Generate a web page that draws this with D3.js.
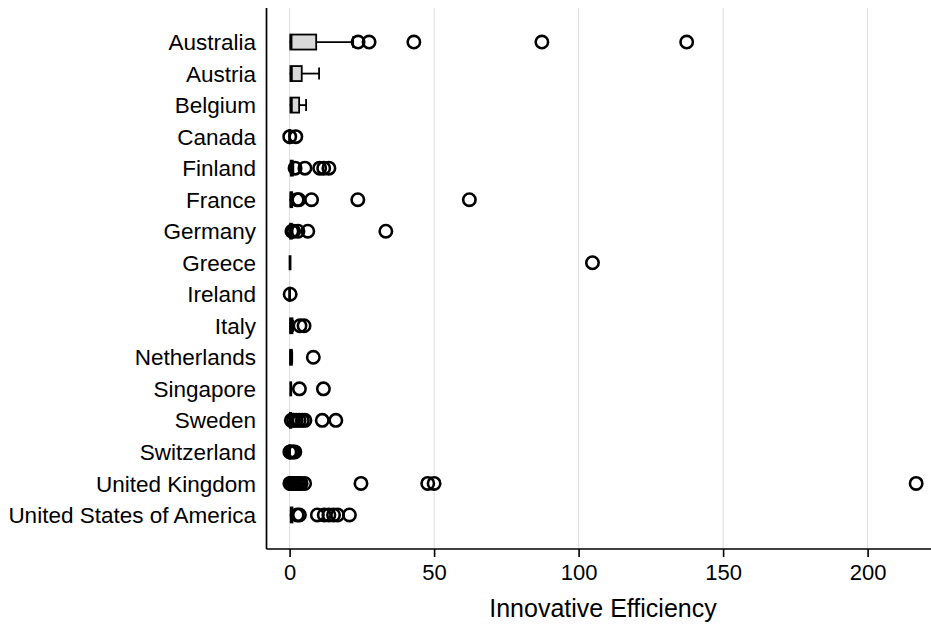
<!DOCTYPE html>
<html>
<head>
<meta charset="utf-8">
<script src="https://cdn.jsdelivr.net/npm/d3@7"></script>
<style>
  html, body { margin: 0; padding: 0; background: #fff; }
  svg { display: block; font-family: "Liberation Sans", Arial, Helvetica, sans-serif; }
</style>
</head>
<body>
<svg id="chart" width="931" height="626"></svg>
<script>
// Innovative efficiency by country: box plots with outliers
const countries = [
  "Australia", "Austria", "Belgium", "Canada", "Finland", "France", "Germany",
  "Greece", "Ireland", "Italy", "Netherlands", "Singapore", "Sweden",
  "Switzerland", "United Kingdom", "United States of America"
];

// Lower whisker, first quartile, median, third quartile, upper whisker
const whiskerLow  = [0,    0,    0,    0,    0,    0,    0,    0.15, 0,    0,    0.2,  0.4,  0,    0,    0,    0.4];
const q1          = [0.3,  0.3,  0.3,  0,    0.4,  0.3,  0.2,  0.15, 0,    0.2,  0.2,  0.4,  0.1,  0,    0,    0.4];
const median      = [0.5,  0.6,  0.6,  0,    0.6,  0.5,  0.4,  0.15, 0,    0.4,  0.4,  0.4,  0.3,  0,    0,    0.6];
const q3          = [9.2,  4.2,  3.3,  0,    1.1,  0.9,  0.8,  0.15, 0,    1.0,  0.8,  0.4,  0.6,  0,    0,    1.0];
const whiskerHigh = [22.0, 10.2, 5.7,  0,    1.3,  1.1,  1.0,  0.15, 0,    1.2,  0.9,  0.4,  0.8,  0,    0,    1.2];

// Observations beyond the whiskers
const outliers = [
  [23.7, 27.5, 43.0, 87.3, 137.4],
  [],
  [],
  [0.05, 2.15],
  [1.9, 5.3, 10.4, 11.8, 13.6],
  [2.6, 3.2, 7.6, 23.6, 62.2],
  [0.8, 1.4, 2.9, 6.3, 33.3],
  [104.8],
  [0.2],
  [3.6, 5.0],
  [8.2],
  [3.4, 11.7],
  [0.6, 1.4, 2.3, 3.3, 4.4, 5.3, 11.3, 16.0],
  [0.1, 0.6, 1.2, 1.8],
  [0.1, 0.6, 1.2, 1.8, 2.5, 3.2, 4.0, 5.2, 24.7, 47.8, 50.0, 216.8],
  [2.6, 3.4, 9.6, 12.0, 13.6, 15.2, 16.6, 20.7]
];

const xTicks = [0, 50, 100, 150, 200];
const xTitle = "Innovative Efficiency";

const svg = d3.select("#chart");
const plotTop = 8, plotBottom = 549, plotLeft = 266.5, plotRight = 931;

const x = d3.scaleLinear().domain([0, 200]).range([289.6, 867.6]);
const y = d3.scalePoint().domain(countries).range([plotTop, plotBottom]).padding(1.08);

const boxHalf = 7.5, capHalf = 6, radius = 6.2;

// vertical gridlines
svg.append("g")
  .selectAll("line")
  .data(xTicks)
  .join("line")
  .attr("x1", d => x(d)).attr("x2", d => x(d))
  .attr("y1", plotTop).attr("y2", plotBottom)
  .attr("stroke", "#dcdcdc").attr("stroke-width", 1);

// x axis
const xAxis = svg.append("g")
  .attr("transform", `translate(0,${plotBottom})`)
  .call(d3.axisBottom(x).tickValues(xTicks).tickSize(8).tickPadding(7).tickFormat(d3.format("d")));
xAxis.select(".domain").remove();
xAxis.selectAll(".tick line").attr("stroke", "#000").attr("stroke-width", 1.6);
xAxis.selectAll(".tick text")
  .attr("font-size", 22).attr("fill", "#000")
  .attr("font-family", "'Liberation Sans', Arial, Helvetica, sans-serif");

// axis lines
svg.append("line")
  .attr("x1", plotLeft).attr("x2", plotRight)
  .attr("y1", plotBottom).attr("y2", plotBottom)
  .attr("stroke", "#000").attr("stroke-width", 1.7);
svg.append("line")
  .attr("x1", plotLeft).attr("x2", plotLeft)
  .attr("y1", plotTop).attr("y2", plotBottom)
  .attr("stroke", "#000").attr("stroke-width", 1.7);

// category labels
svg.append("g")
  .selectAll("text")
  .data(countries)
  .join("text")
  .attr("x", 256)
  .attr("y", d => y(d))
  .attr("dy", "0.36em")
  .attr("text-anchor", "end")
  .attr("font-size", 22.5)
  .attr("fill", "#000")
  .text(d => d);

// axis title
svg.append("text")
  .attr("x", 603).attr("y", 617)
  .attr("text-anchor", "middle")
  .attr("font-size", 25)
  .attr("fill", "#000")
  .text(xTitle);

const rows = countries.map((c, i) => ({
  c, lo: whiskerLow[i], q1: q1[i], med: median[i], q3: q3[i], hi: whiskerHigh[i], out: outliers[i]
}));

const g = svg.append("g");
rows.forEach(r => {
  const cy = y(r.c);
  const row = g.append("g");
  // whiskers
  if (r.hi > r.q3) {
    row.append("line").attr("x1", x(r.q3)).attr("x2", x(r.hi)).attr("y1", cy).attr("y2", cy)
      .attr("stroke", "#000").attr("stroke-width", 1.8);
    row.append("line").attr("x1", x(r.hi)).attr("x2", x(r.hi)).attr("y1", cy - capHalf).attr("y2", cy + capHalf)
      .attr("stroke", "#000").attr("stroke-width", 1.8);
  }
  if (r.lo < r.q1) {
    row.append("line").attr("x1", x(r.lo)).attr("x2", x(r.q1)).attr("y1", cy).attr("y2", cy)
      .attr("stroke", "#000").attr("stroke-width", 1.8);
  }
  // box
  row.append("rect")
    .attr("x", x(r.q1)).attr("y", cy - boxHalf)
    .attr("width", Math.max(0, x(r.q3) - x(r.q1))).attr("height", boxHalf * 2)
    .attr("fill", "#d9d9d9").attr("stroke", "#000").attr("stroke-width", 1.8);
  // median
  row.append("line").attr("x1", x(r.med)).attr("x2", x(r.med))
    .attr("y1", cy - boxHalf).attr("y2", cy + boxHalf)
    .attr("stroke", "#000").attr("stroke-width", 2.8);
  // outliers
  row.selectAll("circle")
    .data(r.out)
    .join("circle")
    .attr("cx", d => x(d)).attr("cy", cy).attr("r", radius)
    .attr("fill", "none").attr("stroke", "#000").attr("stroke-width", 2.6);
});
</script>
</body>
</html>
